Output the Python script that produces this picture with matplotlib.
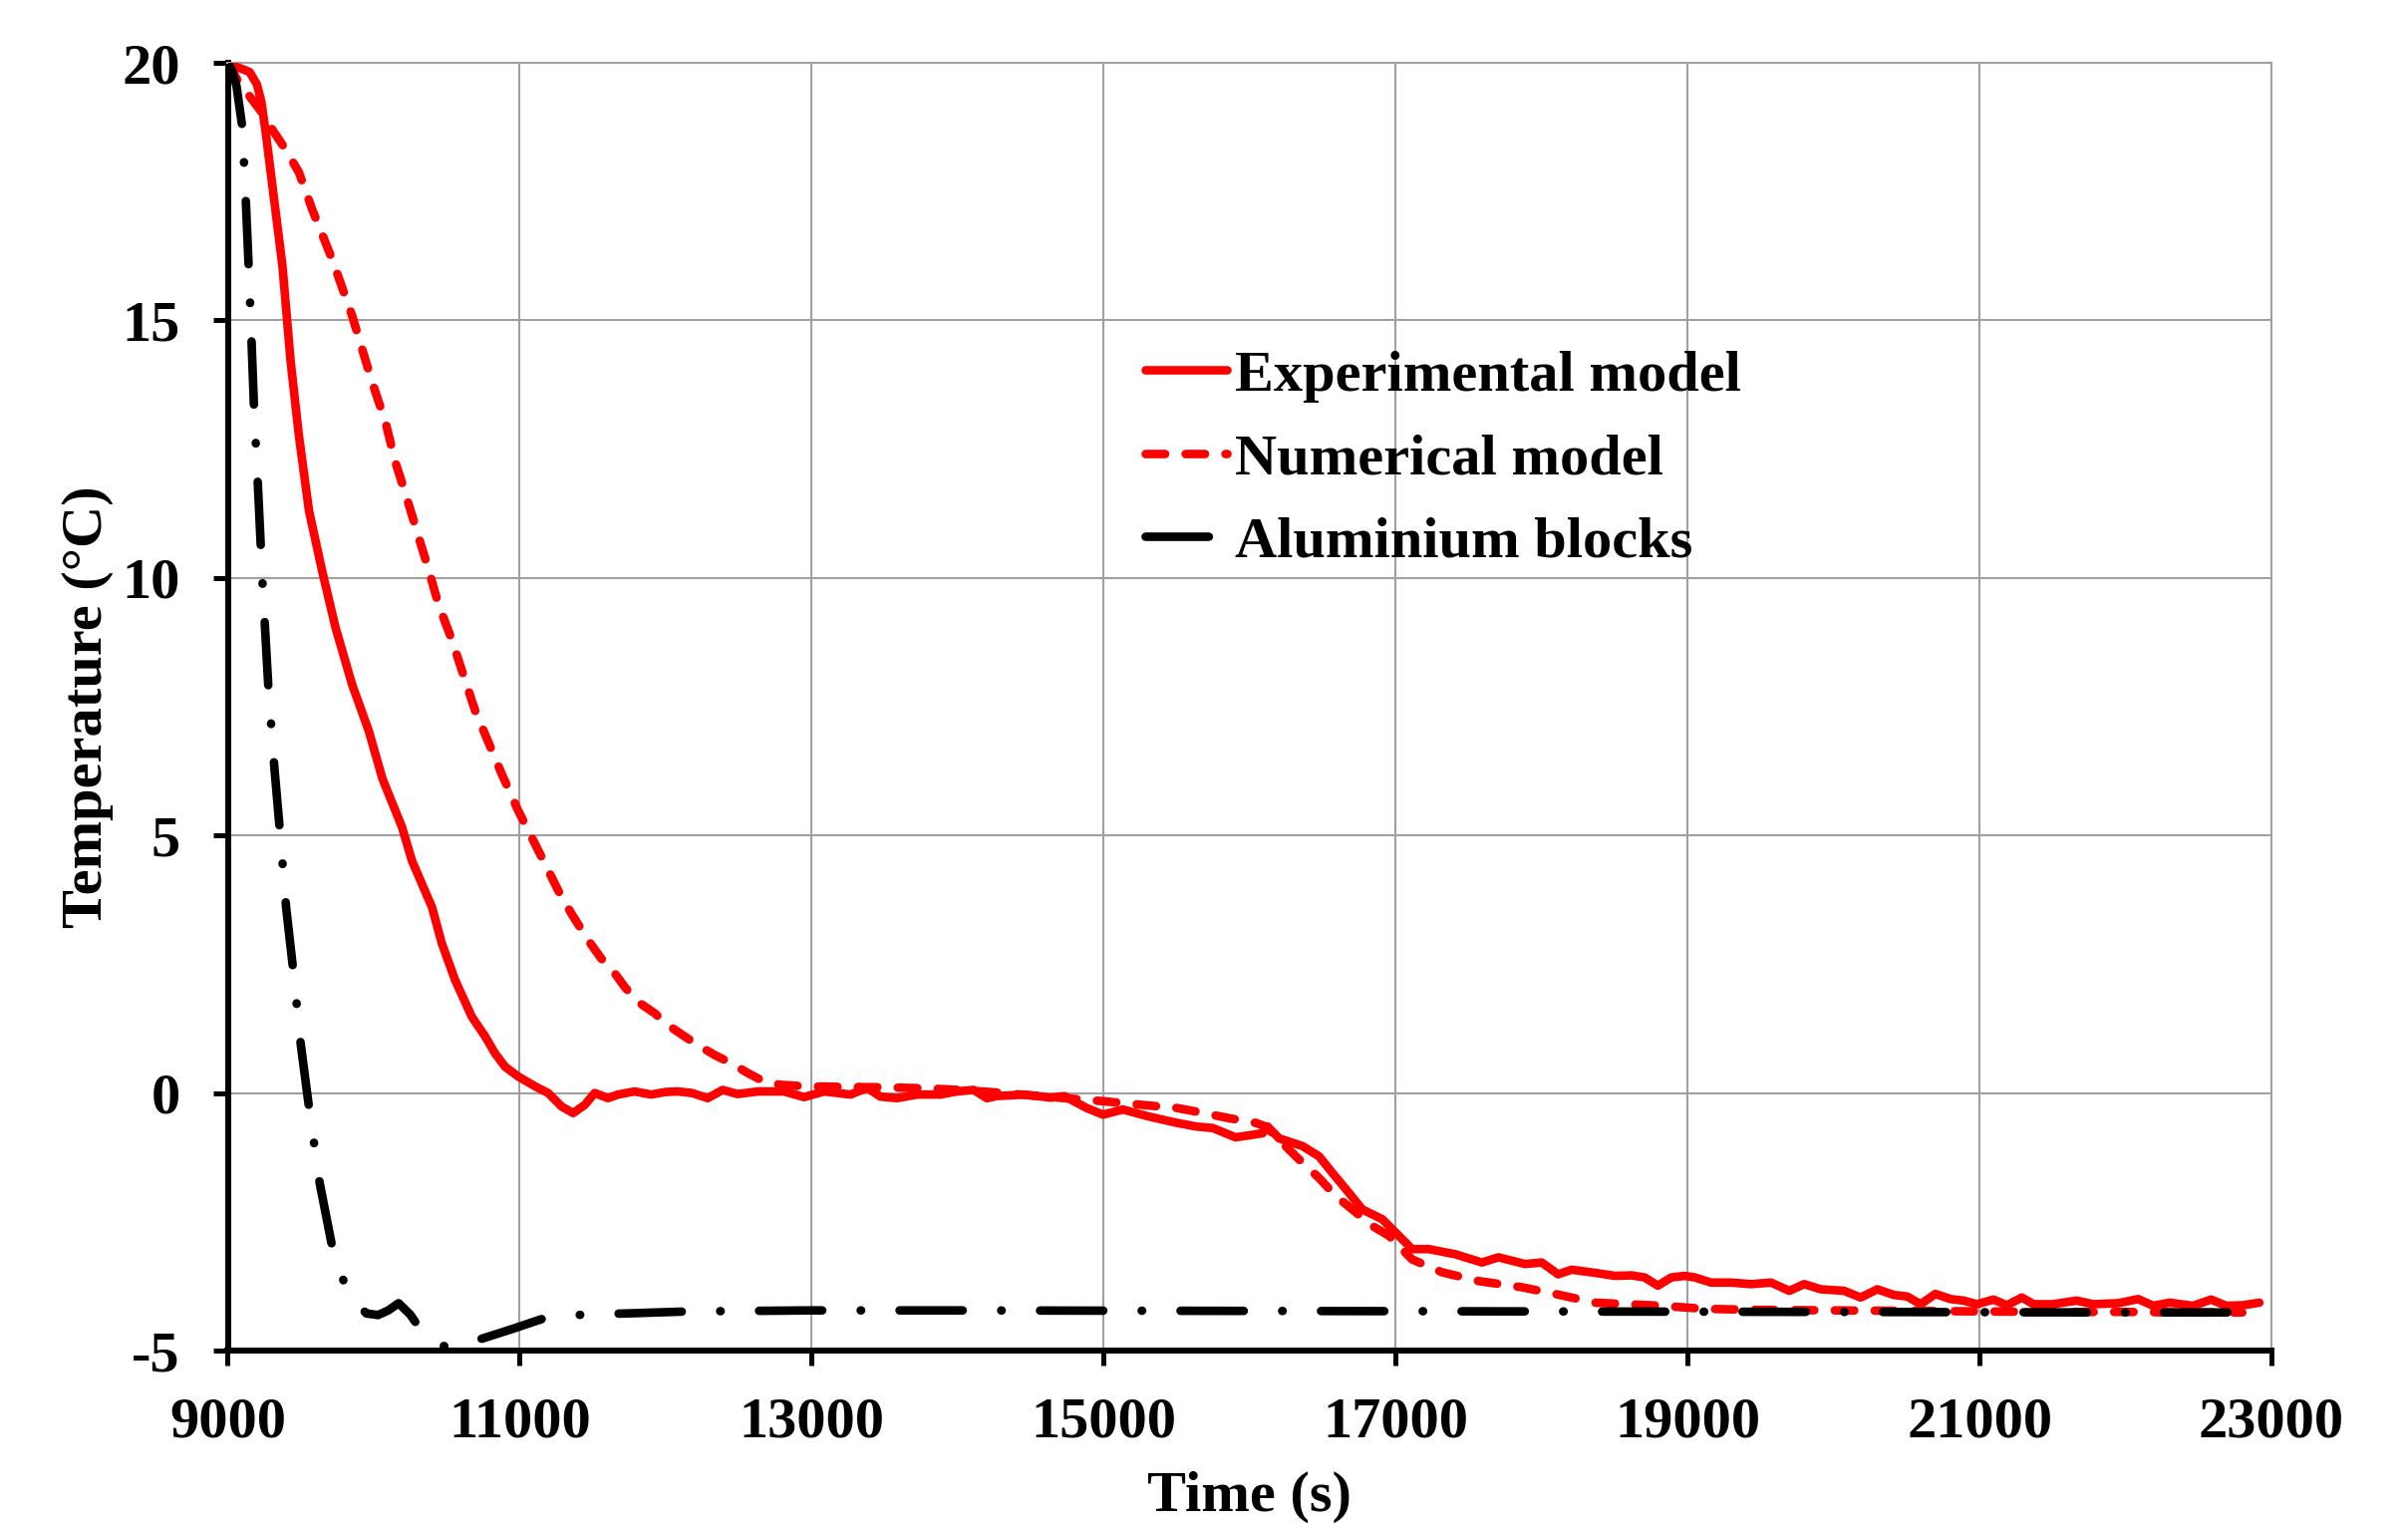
import matplotlib
matplotlib.use("Agg")
import matplotlib.pyplot as plt

plt.rcParams["axes.unicode_minus"] = False

# ---------------- data ----------------
t_exp = [9000, 9050, 9100, 9150, 9200, 9230, 9260, 9320, 9375, 9431, 9488, 9557, 9647, 9739,
         9852, 9966, 10060, 10194, 10262, 10330, 10399, 10467, 10558, 10672, 10763, 10831,
         10900, 10990, 11105, 11195, 11286, 11366, 11446, 11514, 11605, 11673, 11787, 11900,
         12000, 12083, 12180, 12288, 12390, 12493, 12630, 12811, 12948, 13085, 13266, 13380,
         13471, 13585, 13722, 13881, 13995, 14109, 14200, 14267, 14453, 14637, 14731, 14883,
         14996, 15132, 15300, 15502, 15633, 15748, 15903, 16000, 16089, 16123, 16202, 16362,
         16476, 16567, 16681, 16772, 16909, 17000, 17113, 17227, 17409, 17591, 17705, 17887,
         18001, 18114, 18206, 18365, 18502, 18616, 18706, 18797, 18889, 18980, 19050, 19162,
         19300, 19435, 19572, 19697, 19799, 19913, 20072, 20186, 20300, 20413, 20505, 20596,
         20698, 20801, 20892, 20982, 21096, 21187, 21290, 21370, 21500, 21666, 21780, 21950,
         22087, 22190, 22303, 22462, 22587, 22690, 22804, 22917]
T_exp = [20.0, 19.93, 19.88, 19.82, 19.58, 19.25, 18.65, 17.3, 16.05, 14.2, 12.75, 11.3, 10.13, 9.03,
         7.93, 7.03, 6.1, 5.16, 4.51, 4.06, 3.61, 2.90, 2.19, 1.48, 1.10, 0.77,
         0.51, 0.32, 0.13, 0.0, -0.26, -0.39, -0.23, 0.0, -0.1, -0.03, 0.03, -0.03,
         0.02, 0.03, 0.0, -0.1, 0.06, -0.02, 0.03, 0.03, -0.08, 0.03, -0.03, 0.1,
         -0.07, -0.1, -0.03, -0.03, 0.03, 0.06, -0.1, -0.06, -0.03, -0.09, -0.06, -0.29,
         -0.42, -0.32, -0.45, -0.58, -0.65, -0.68, -0.86, -0.82, -0.78, -0.65, -0.88, -1.03,
         -1.23, -1.55, -1.94, -2.26, -2.45, -2.71, -3.03, -3.03, -3.13, -3.29, -3.19, -3.32,
         -3.29, -3.52, -3.43, -3.49, -3.55, -3.54, -3.58, -3.74, -3.58, -3.55, -3.58, -3.68,
         -3.68, -3.71, -3.68, -3.84, -3.71, -3.81, -3.84, -3.97, -3.81, -3.92, -3.95, -4.10,
         -3.90, -4.0, -4.03, -4.10, -4.01, -4.12, -3.97, -4.10, -4.10, -4.03, -4.10, -4.08,
         -4.0, -4.13, -4.07, -4.13, -4.01, -4.13, -4.12, -4.07]

t_num = [9000, 9080, 9150, 9230, 9306, 9400, 9488, 9579, 9716, 9852, 9989, 10080, 10148, 10217,
         10296, 10376, 10444, 10535, 10695, 10876, 10990, 11081, 11173, 11264, 11355, 11468,
         11559, 11650, 11719, 11810, 11924, 12015, 12129, 12220, 12334, 12447, 12561, 12675,
         12788, 12948, 13200, 13500, 13800, 14000, 14270, 14600, 15000, 15300, 15500, 15633,
         15861, 16043, 16110, 16200, 16317, 16476, 16590, 16704, 16840, 16954, 17113, 17318,
         17568, 17864, 18092, 18365, 18592, 18820, 19116, 19500, 20000, 20500, 21000, 21500,
         22000, 22400, 22800]
T_num = [20.0, 19.6, 19.35, 19.05, 18.7, 18.3, 17.87, 17.15, 16.18, 15.09, 13.8, 13.03, 12.25, 11.64,
         10.9, 10.16, 9.48, 8.8, 7.42, 6.2, 5.48, 4.97, 4.45, 3.93, 3.48, 2.97,
         2.61, 2.33, 2.06, 1.77, 1.55, 1.32, 1.10, 0.93, 0.74, 0.58, 0.39, 0.22,
         0.16, 0.13, 0.12, 0.11, 0.09, 0.06, 0.01, -0.07, -0.16, -0.24, -0.29, -0.36,
         -0.49, -0.58, -0.65, -0.9, -1.23, -1.65, -2.0, -2.26, -2.58, -2.77, -3.23, -3.48,
         -3.65, -3.77, -3.9, -4.07, -4.10, -4.13, -4.19, -4.21, -4.22, -4.23, -4.24, -4.25,
         -4.25, -4.26, -4.26]

t_al = [9000, 9030, 9060, 9100, 9125, 9150, 9180, 9210, 9240, 9280, 9320, 9360, 9400, 9450,
        9500, 9560, 9630, 9720, 9800, 9870, 9950, 10030, 10100, 10170, 10250, 10330, 10420,
        10500, 10600, 10740, 10950, 11170, 11440, 11720, 12150, 13000, 14000, 16000, 18000,
        20000, 22000, 22750]
T_al = [20.0, 19.85, 19.55, 18.75, 17.25, 15.6, 13.3, 11.6, 9.8, 7.8, 6.3, 5.0, 3.6, 2.35,
        0.95, -0.35, -1.75, -3.05, -3.7, -4.05, -4.28, -4.31, -4.22, -4.08, -4.3, -4.63, -4.85,
        -4.93, -4.88, -4.77, -4.58, -4.37, -4.3, -4.28, -4.24, -4.22, -4.22, -4.23, -4.24,
        -4.25, -4.26, -4.26]

labels = ["Experimental model", "Numerical model", "Aluminium blocks"]
x_ticks = [9000, 11000, 13000, 15000, 17000, 19000, 21000, 23000]
y_ticks = [-5, 0, 5, 10, 15, 20]

# ---------------- figure ----------------
W, H = 2416, 1529
fig = plt.figure(figsize=(W / 100, H / 100), dpi=100)
ax = fig.add_axes([228.5 / W, 1 - 1355 / H, (2279 - 228.5) / W, (1355 - 63) / H])

FONT = "Liberation Serif"
FS = 42
LW = 6.2

ax.plot(t_exp, T_exp, color="#ff0000", lw=LW, solid_capstyle="round",
        solid_joinstyle="round", label=labels[0], zorder=3)
ax.plot(t_num, T_num, color="#ff0000", lw=LW, dashes=(2.26, 2.39),
        dash_capstyle="round", dash_joinstyle="round", label=labels[1], zorder=3)
ax.plot(t_al, T_al, color="black", lw=LW, dashes=(7.36, 4.48, 0.05, 4.48),
        dash_capstyle="round", dash_joinstyle="round", label=labels[2], zorder=4)

ax.set_xlim(9000, 23000)
ax.set_ylim(-5, 20)
ax.set_xticks(x_ticks)
ax.set_yticks(y_ticks)
ax.grid(True, color="#a0a0a0", lw=1.5, zorder=0)
ax.set_axisbelow(True)

for s in ["left", "bottom"]:
    ax.spines[s].set_linewidth(4.3)
    ax.spines[s].set_color("black")
for s in ["top", "right"]:
    ax.spines[s].set_linewidth(1.5)
    ax.spines[s].set_color("#a0a0a0")

ax.tick_params(axis="both", which="major", direction="out", length=10.5, width=3.6,
               color="black")
ax.tick_params(axis="y", pad=24)
ax.tick_params(axis="x", pad=23)
for lab in ax.get_xticklabels() + ax.get_yticklabels():
    lab.set_fontfamily(FONT)
    lab.set_fontweight("bold")
    lab.set_fontsize(FS)

ax.set_xlabel("Time (s)", fontfamily=FONT, fontweight="bold", fontsize=FS, labelpad=16)
ax.set_ylabel("Temperature (°C)", fontfamily=FONT, fontweight="bold", fontsize=FS, labelpad=6)

leg = ax.legend(loc="upper left", bbox_to_anchor=(1149 / W, 1 - 351 / H),
                bbox_transform=fig.transFigure, frameon=False, borderpad=0,
                borderaxespad=0, handlelength=1.40, handletextpad=0.15,
                labelspacing=0.52,
                prop={"family": FONT, "weight": "bold", "size": FS})

fig.savefig("out.png", dpi=100, facecolor="white")
